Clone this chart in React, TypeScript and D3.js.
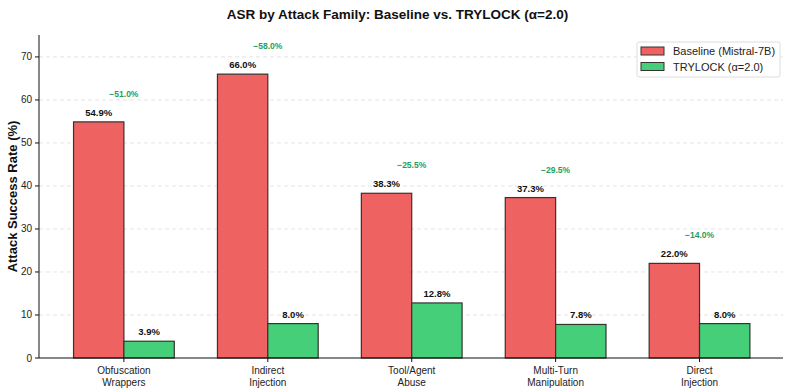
import React from 'react';
import * as d3 from 'd3';

const width = 793;
const height = 392;
const margin = { top: 35, right: 10, bottom: 34, left: 39 };

const families = [
  ['Obfuscation', 'Wrappers'],
  ['Indirect', 'Injection'],
  ['Tool/Agent', 'Abuse'],
  ['Multi-Turn', 'Manipulation'],
  ['Direct', 'Injection'],
];
const baseline = [54.9, 66.0, 38.3, 37.3, 22.0];
const trylock = [3.9, 8.0, 12.8, 7.8, 8.0];
const deltas = ['−51.0%', '−58.0%', '−25.5%', '−29.5%', '−14.0%'];
const yTicks = [0, 10, 20, 30, 40, 50, 60, 70];

const RED = '#ef6262';
const GREEN = '#45cf79';
const font = 'Liberation Sans, Arial, Helvetica, sans-serif';

export default function App() {
  const x = d3.scaleLinear().domain([-0.59, 4.58]).range([margin.left, width - margin.right]);
  const y = d3.scaleLinear().domain([0, 75.1]).range([height - margin.bottom, margin.top]);
  const bw = 0.35;
  const px = (v: number) => x(v) - x(0);

  return (
    <svg width={width} height={height} style={{ position: 'absolute', left: 0, top: 0, fontFamily: font }}>
      <text x={width / 2 + 1} y={19} textAnchor="middle" fontSize={13.5} fontWeight="bold" fill="#111">
        ASR by Attack Family: Baseline vs. TRYLOCK (α=2.0)
      </text>

      {yTicks.filter(t => t > 0).map(t => (
        <line key={t} x1={margin.left} x2={width - margin.right} y1={y(t)} y2={y(t)}
          stroke="#ddd" strokeDasharray="4,3" strokeWidth={0.8} />
      ))}

      {baseline.map((b, i) => (
        <g key={i}>
          <rect x={x(i - bw)} y={y(b)} width={px(bw)} height={y(0) - y(b)}
            fill={RED} stroke="#333" strokeWidth={1.2} />
          <rect x={x(i)} y={y(trylock[i])} width={px(bw)} height={y(0) - y(trylock[i])}
            fill={GREEN} stroke="#333" strokeWidth={1.2} />
          <text x={x(i - bw / 2)} y={y(b) - 6} textAnchor="middle" fontSize={9.5} fontWeight="bold" fill="#111">
            {b.toFixed(1)}%
          </text>
          <text x={x(i + bw / 2)} y={y(trylock[i]) - 6} textAnchor="middle" fontSize={9.5} fontWeight="bold" fill="#111">
            {trylock[i].toFixed(1)}%
          </text>
          <text x={x(i)} y={y(b + 5.8)} textAnchor="middle" fontSize={8.5} fontWeight="bold" fill="#1e9e5e">
            {deltas[i]}
          </text>
        </g>
      ))}

      {/* axes */}
      <line x1={margin.left} x2={margin.left} y1={margin.top} y2={y(0)} stroke="#111" strokeWidth={1} />
      <line x1={margin.left} x2={width - margin.right} y1={y(0)} y2={y(0)} stroke="#111" strokeWidth={1} />
      {yTicks.map(t => (
        <g key={t} transform={`translate(${margin.left},${y(t)})`}>
          <line x1={-4} x2={0} stroke="#111" />
          <text x={-7} dy="0.35em" textAnchor="end" fontSize={10} fill="#222">{t}</text>
        </g>
      ))}
      {families.map((f, i) => (
        <g key={i} transform={`translate(${x(i)},${y(0)})`}>
          <line y1={0} y2={4} stroke="#111" />
          <text y={16} textAnchor="middle" fontSize={10} fill="#222">{f[0]}</text>
          <text y={28} textAnchor="middle" fontSize={10} fill="#222">{f[1]}</text>
        </g>
      ))}
      <text transform={`translate(17,${(margin.top + y(0)) / 2}) rotate(-90)`} textAnchor="middle"
        fontSize={13} fontWeight="bold" fill="#111">
        Attack Success Rate (%)
      </text>

      {/* legend */}
      <g transform="translate(637,42)">
        <rect x={0} y={0} width={143} height={35} rx={2} fill="#fff" stroke="#ddd" />
        <rect x={4} y={5} width={23} height={8} fill={RED} stroke="#333" strokeWidth={1} />
        <text x={36} y={13} fontSize={11} fill="#222">Baseline (Mistral-7B)</text>
        <rect x={4} y={20.5} width={23} height={8} fill={GREEN} stroke="#333" strokeWidth={1} />
        <text x={36} y={28.5} fontSize={11} fill="#222">TRYLOCK (α=2.0)</text>
      </g>
    </svg>
  );
}
